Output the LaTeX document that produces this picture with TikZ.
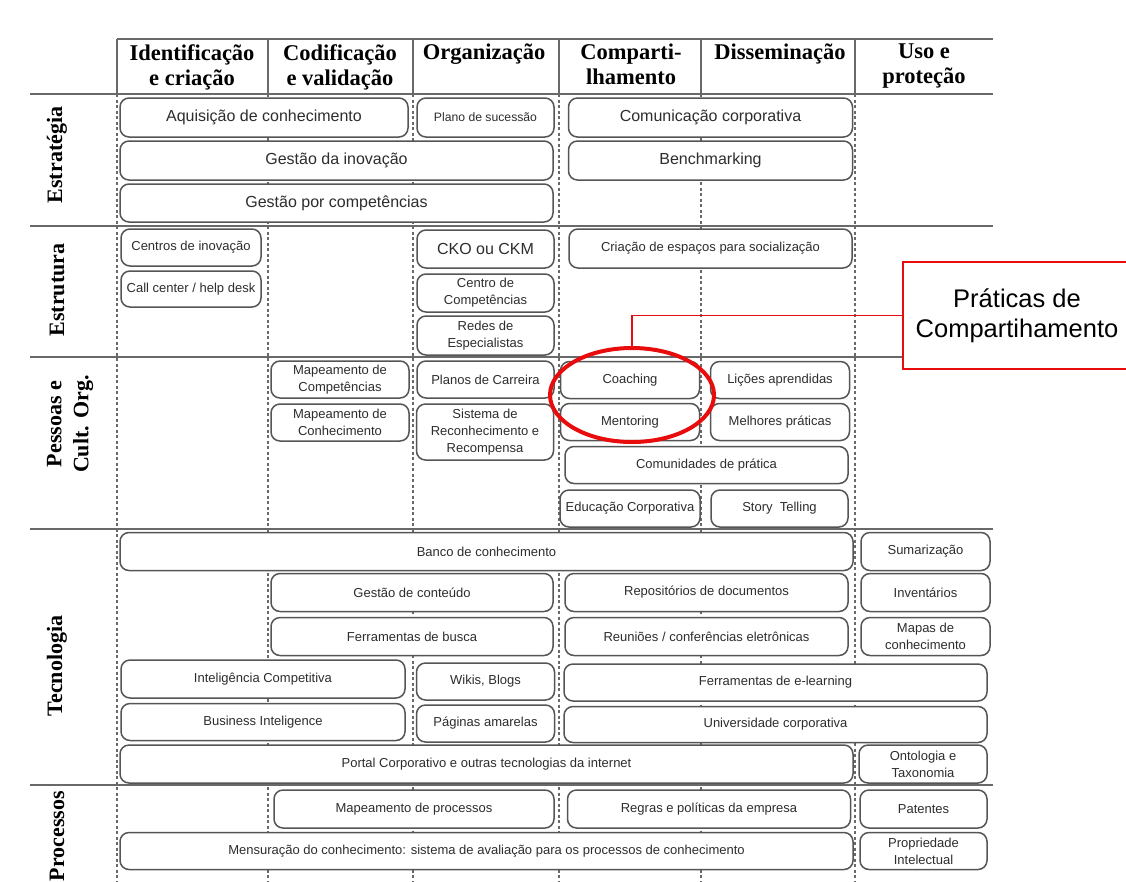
\documentclass[tikz,border=0pt]{standalone}
\usepackage{fontspec}
\setmainfont{Liberation Serif}
\setsansfont{Liberation Sans}
\usepackage{tikz}
\usetikzlibrary{shapes.geometric, positioning}
\definecolor{boxgray}{RGB}{85, 85, 85}
\definecolor{rulegray}{RGB}{105, 105, 105}
\definecolor{textgray}{RGB}{45, 45, 45}
\definecolor{redmark}{RGB}{232, 12, 12}

\begin{document}
\begin{tikzpicture}[x=1pt, y=-1pt,
    caixa/.style 2 args={draw=boxgray, fill=white, rounded corners=9pt, line width=1.5pt,
        minimum width=#1, minimum height=#2, inner sep=1pt, align=center, text=textgray,
        font=\sffamily\fontsize{13}{17}\selectfont},
    grande/.style={font=\sffamily\fontsize{16}{18}\selectfont},
    titulo/.style={anchor=north, inner sep=0pt, align=center, font=\bfseries\fontsize{22.5}{25}\selectfont},
    linha/.style={rotate=90, align=center, font=\bfseries\fontsize{22}{27}\selectfont},
    tracejado/.style={rulegray, line width=1.2pt, dash pattern=on 3pt off 2.5pt},
    regua/.style={rulegray, line width=2pt}]
    \useasboundingbox (0,0) rectangle (1126,881);

    % Column guides
    \draw[tracejado] (117,94) -- (117,881) (268,94) -- (268,881) (413,94) -- (413,881)
        (559,94) -- (559,881) (701,94) -- (701,881) (855,94) -- (855,881);

    % Header and row rules
    \draw[regua] (117,39) -- (993,39);
    \draw[regua] (117,39) -- (117,94) (268,39) -- (268,94) (413,39) -- (413,94)
        (559,39) -- (559,94) (701,39) -- (701,94) (855,39) -- (855,94);
    \draw[regua] (30,94) -- (993,94);
    \draw[regua] (30,226) -- (993,226);
    \draw[regua] (30,357) -- (993,357);
    \draw[regua] (30,529) -- (993,529);
    \draw[regua] (30,785) -- (993,785);

    \node[titulo] (hident) at (192,44) {Identificação\\e criação};
    \node[titulo] (hcodif) at (340,44) {Codificação\\e validação};
    \node[titulo] (horgan) at (484,44) {Organização};
    \node[titulo] (hcompart) at (631,44) {Comparti-\\lhamento};
    \node[titulo] (hdissem) at (780,44) {Disseminação};
    \node[titulo] (huso) at (924,44) {Uso e\\proteção};

    % Row labels
    \node[linha] (restrategia) at (57,155) {Estratégia};
    \node[linha] (restrutura) at (57,290) {Estrutura};
    \node[linha] (rpessoas) at (70,424) {Pessoas e\\Cult. Org.};
    \node[linha] (rtecnologia) at (57,666) {Tecnologia};
    \node[linha] (rprocessos) at (57,836) {Processos};

    % Estrategia
    \node[caixa={288}{39}, grande] (aquisicao) at (264,117.5) {Aquisição de conhecimento};
    \node[caixa={137}{39}, font=\sffamily\fontsize{12.2}{15}\selectfont] (sucessao) at (485.5,117.5) {Plano de sucessão};
    \node[caixa={284}{39}, grande] (comunicacao) at (710.5,117.5) {Comunicação corporativa};
    \node[caixa={433}{39}, grande] (inovacao) at (336.5,160.5) {Gestão da inovação};
    \node[caixa={284}{39}, grande] (benchmarking) at (710.5,160.5) {Benchmarking};
    \node[caixa={433}{38}, grande] (competencias) at (336.5,203) {Gestão por competências};

    % Estrutura
    \node[caixa={140}{37}] (centros) at (191,247.5) {Centros de inovação};
    \node[caixa={140}{36}] (callcenter) at (191,289) {Call center / help desk};
    \node[caixa={137}{38}, grande] (cko) at (485.5,249) {CKO ou CKM};
    \node[caixa={137}{38}] (centrocomp) at (485.5,293) {Centro de\\Competências};
    \node[caixa={137}{39}] (redes) at (485.5,335.5) {Redes de\\Especialistas};
    \node[caixa={283}{39}] (criacao) at (710.5,248.5) {Criação de espaços para socialização};

    % Pessoas e cultura
    \node[caixa={138}{37}] (mapcomp) at (340,379.5) {Mapeamento de\\Competências};
    \node[caixa={138}{37}] (mapconh) at (340,422.5) {Mapeamento de\\Conhecimento};
    \node[caixa={137}{37}] (planos) at (485.5,379.5) {Planos de Carreira};
    \node[caixa={137}{56}] (sistema) at (485,432) {Sistema de\\Reconhecimento e\\Recompensa};
    \node[caixa={139}{37}] (coaching) at (630,380) {Coaching};
    \node[caixa={139}{37}] (licoes) at (780,380) {Lições aprendidas};
    \node[caixa={139}{37}] (mentoring) at (630,422) {Mentoring};
    \node[caixa={139}{37}] (melhores) at (780,422) {Melhores práticas};
    \node[caixa={283}{37}] (comunidades) at (706.5,465) {Comunidades de prática};
    \node[caixa={140}{37}] (educacao) at (630,508.5) {Educação Corporativa};
    \node[caixa={137}{37}] (story) at (779.5,508.5) {Story~ Telling};

    % Tecnologia
    \node[caixa={733}{38}] (banco) at (486.5,551.5) {Banco de conhecimento};
    \node[caixa={129}{38}] (sumarizacao) at (925.5,551.5) {Sumarização};
    \node[caixa={282}{38}] (conteudo) at (412,592.5) {Gestão de conteúdo};
    \node[caixa={283}{38}] (repositorios) at (706.5,592.5) {Repositórios de documentos};
    \node[caixa={129}{38}] (inventarios) at (925.5,592.5) {Inventários};
    \node[caixa={282}{38}] (busca) at (412,636.5) {Ferramentas de busca};
    \node[caixa={283}{38}] (reunioes) at (706.5,636.5) {Reuniões / conferências eletrônicas};
    \node[caixa={129}{38}] (mapas) at (925.5,636.5) {Mapas de\\conhecimento};
    \node[caixa={284}{38}] (inteligencia) at (263,679) {Inteligência Competitiva};
    \node[caixa={138}{37}] (wikis) at (485.5,681.5) {Wikis, Blogs};
    \node[caixa={423}{37}] (elearning) at (775.5,682.5) {Ferramentas de e-learning};
    \node[caixa={284}{37}] (business) at (263,722) {Business Inteligence};
    \node[caixa={138}{37}] (paginas) at (485.5,723.5) {Páginas amarelas};
    \node[caixa={423}{36}] (universidade) at (775.5,724.5) {Universidade corporativa};
    \node[caixa={733}{38}] (portal) at (486.5,764) {Portal Corporativo e outras tecnologias da internet};
    \node[caixa={128}{38}] (ontologia) at (923,764) {Ontologia e\\Taxonomia};

    % Processos
    \node[caixa={280}{38}] (mapprocessos) at (414,809) {Mapeamento de processos};
    \node[caixa={283}{38}] (regras) at (709,809) {Regras e políticas da empresa};
    \node[caixa={127}{38}] (patentes) at (923.5,809) {Patentes};
    \node[caixa={733}{37}] (mensuracao) at (486.5,851) {Mensuração do conhecimento: sistema de avaliação para os processos de conhecimento};
    \node[caixa={127}{37}] (propriedade) at (923.5,851) {Propriedade\\Intelectual};

    % Highlight and callout
    \node[ellipse, draw=redmark, line width=4pt, minimum width=164, minimum height=94, inner sep=0pt] (destaque) at (632,395) {};
    \node[draw=redmark, line width=1.3pt, fill=white, minimum width=228, minimum height=107, align=center,
        font=\sffamily\fontsize{25.5}{30}\selectfont] (praticas) at (1017,315.5) {Práticas de\\Compartihamento};
    \draw[redmark, line width=1.3pt] (praticas.west) -| (destaque.north);
\end{tikzpicture}
\end{document}
